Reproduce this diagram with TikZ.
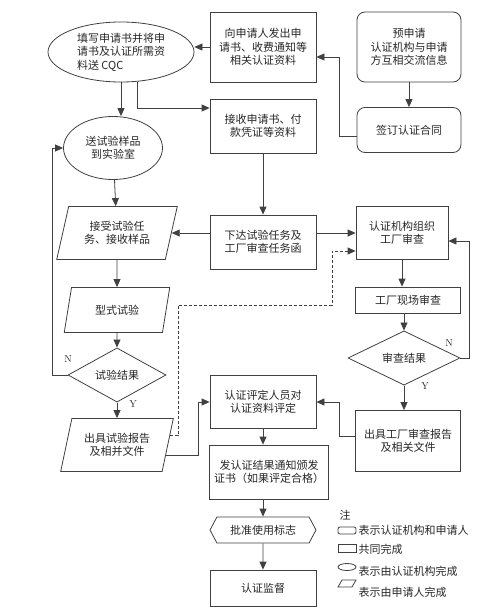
\documentclass[tikz,border=0pt]{standalone}
\usepackage{fontspec}
\newfontfamily\cjk{Noto Sans CJK SC}
\usetikzlibrary{shapes.geometric,shapes.symbols,arrows.meta}
\tikzset{
  every node/.style={font=\cjk\fontsize{11}{13.5}\selectfont, text=black!85},
  conn/.style={draw=black!75, line width=0.8pt},
  arr/.style={conn, -{Triangle[length=8pt,width=7pt]}},
  dasharr/.style={arr, dash pattern=on 3pt off 2pt},
  box/.style={conn, rectangle, align=center, inner sep=0pt},
  rbox/.style={box, rounded corners=8pt},
  oval/.style={conn, ellipse, align=center, inner sep=0pt},
  para/.style={conn, trapezium, trapezium left angle=71, trapezium right angle=109,
    trapezium stretches=true, align=center, inner sep=0pt},
  decide/.style={conn, diamond, inner sep=0pt},
  hexa/.style={conn, signal, signal to=west and east, signal pointer angle=124, inner sep=0pt},
  yn/.style={font=\rmfamily\fontsize{10}{12}\selectfont}
}
\begin{document}
\begin{tikzpicture}[x=1pt,y=-1pt]
  \useasboundingbox (0,0) rectangle (497,607);
  \node[oval, minimum width=146pt, minimum height=60pt, align=left] (apply) at (121,52)
    {填写申请书并将申\\请书及认证所需资\\料送 CQC};
  \node[box, minimum width=106pt, minimum height=70pt] (send) at (263,47)
    {向申请人发出申\\请书、收费通知等\\相关认证资料};
  \node[rbox, minimum width=104pt, minimum height=70pt] (pre) at (409,47)
    {预申请\\认证机构与申请\\方互相交流信息};
  \node[rbox, minimum width=104pt, minimum height=45pt] (contract) at (409,130) {签订认证合同};
  \node[box, minimum width=106pt, minimum height=54pt] (recv) at (263,126)
    {接收申请书、付\\款凭证等资料};
  \node[oval, minimum width=99pt, minimum height=63pt] (sample) at (113,148) {送试验样品\\到实验室};
  \node[para, minimum width=121pt, minimum height=53pt] (accept) at (117,233) {接受试验任\\务、接收样品};
  \node[box, minimum width=106pt, minimum height=54pt] (task) at (263,242)
    {下达试验任务及\\工厂审查任务函};
  \node[box, minimum width=92pt, minimum height=53pt] (org) at (402,233) {认证机构组织\\工厂审查};
  \node[para, minimum width=106pt, minimum height=45pt] (typetest) at (117,310) {型式试验};
  \node[decide, minimum width=98pt, minimum height=54pt] (testres) at (117,375) {试验结果};
  \node[para, minimum width=113pt, minimum height=53pt] (testrep) at (117,445) {出具试验报告\\及相并文件};
  \node[box, minimum width=105pt, minimum height=26pt] (site) at (408,300) {工厂现场审查};
  \node[decide, minimum width=112pt, minimum height=36pt] (auditres) at (404,358) {审查结果};
  \node[box, minimum width=105pt, minimum height=61pt] (auditrep) at (408,441)
    {出具工厂审查报告\\及相关文件};
  \node[box, minimum width=106pt, minimum height=53pt] (eval) at (263,402) {认证评定人员对\\认证资料评定};
  \node[box, minimum width=119pt, minimum height=54pt] (notice) at (269,472)
    {发认证结果通知颁发\\证书（如果评定合格）};
  \node[hexa, minimum width=106pt, minimum height=26pt] (mark) at (263,530) {批准使用标志};
  \node[box, minimum width=106pt, minimum height=36pt] (superv) at (263,588) {认证监督};

  \draw[arr] (send.west) -- (apply.east |- send.west);
  \draw[arr] ([yshift=-6pt]contract.west) -- ++(-17,0) |- ([yshift=-10pt]send.east);
  \draw[arr] (pre) -- (contract);
  \draw[arr] (apply.south) -- (apply.south |- sample.north);
  \draw[arr] ([xshift=16pt]apply.south) |- ([yshift=18pt]recv.west);
  \draw[arr] (recv) -- (task);
  \draw[arr] (task.west |- accept.east) -- (accept.east);
  \draw[arr] (task.east |- org.west) -- (org.west);
  \draw[arr] (sample) -- (accept);
  \draw[arr] (accept) -- (typetest);
  \draw[arr] (typetest) -- (testres);
  \draw[arr] (testres) -- (testrep);
  \draw[arr] (testres.west) -- ++(-15,0) |- (sample.west);
  \draw[arr] (testrep.-12) -- ++(32,0) |- (eval.west);
  \draw[dasharr] (testrep.10) -| (178,305) -| (332,251) -- ([yshift=-18pt]org.west);
  \draw[arr] (org.south) -- (org.south |- site.north);
  \draw[arr] (site.south -| auditres) -- (auditres.north);
  \draw[arr] (auditres.east) -- ++(9,0) |- ([yshift=-8pt]org.east);
  \draw[arr] (auditres.south) -- (auditres.south |- auditrep.north);
  \draw[arr] ([yshift=5pt]auditrep.west) -- ++(-16,0) |- (eval.east);
  \draw[arr] (eval.south) -- (eval.south |- notice.north);
  \draw[arr] (mark.north |- notice.south) -- (mark.north);
  \draw[arr] (mark) -- (superv);

  \node[yn] (n1) at (68,359) {N};
  \node[yn] (y1) at (133,404) {Y};
  \node[yn] (n2) at (449,343) {N};
  \node[yn] (y2) at (425,386) {Y};

  \node[anchor=west] (note) at (336,515) {注};
  \draw[conn, rounded corners=2pt] (338,527) rectangle (356,534);
  \node[anchor=west] (lg1) at (355,530) {表示认证机构和申请人};
  \draw[conn] (338,544) rectangle (356,552);
  \node[anchor=west] (lg2) at (355,549) {共同完成};
  \draw[conn] (347,567) ellipse [x radius=9, y radius=3.5];
  \node[anchor=west] (lg3) at (355,571) {表示由认证机构完成};
  \draw[conn] (342,580) -- (356,580) -- (352,587) -- (338,587) -- cycle;
  \node[anchor=west] (lg4) at (355,592) {表示由申请人完成};
\end{tikzpicture}
\end{document}
